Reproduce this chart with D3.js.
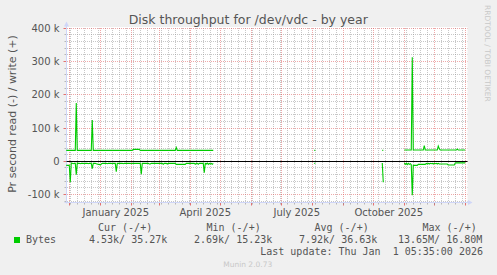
<!DOCTYPE html>
<html><head><meta charset="utf-8">
<script src="https://cdn.jsdelivr.net/npm/d3@7"></script>
<style>html,body{margin:0;padding:0;background:#F0F0F0;} svg{display:block}</style>
</head><body><svg id="c" width="497" height="275"></svg>
<script>
// ---------- data ----------
const chartTitle = "Disk throughput for /dev/vdc - by year";
const yAxisLabel = "Pr second read (-) / write (+)";
const yTickValues = [-100, 0, 100, 200, 300, 400]; // in k
const yTickLabels = ["-100 k", "0", "100 k", "200 k", "300 k", "400 k"];
const xLabelMonths = ["2025-01-01", "2025-04-01", "2025-07-01", "2025-10-01"];
const xLabelTexts = ["January 2025", "April 2025", "July 2025", "October 2025"];
const endTime = "2026-01-01T05:35:00Z";
const spanDays = 400;

// daily values (k bytes/s), each segment starts at its date
const segmentStarts = ["2024-11-28", "2025-08-03", "2025-10-10", "2025-11-01"];
const writeSeg1 = [
  33,33,33,33,33,33,33,33,33,33,
  175,33,33,33,33,33,33,33,33,33,
  33,33,33,33,33,33,124,33,33,33,
  33,33,33,33,33,33,33,33,33,33,
  33,33,33,33,33,33,33,33,33,33,
  33,33,33,33,33,33,33,33,33,33,
  33,33,33,33,33,33,33,36,36,36,
  36,36,36,36,33,33,33,33,33,33,
  33,33,33,33,33,33,33,33,33,33,
  33,33,33,33,33,33,33,33,33,33,
  33,33,33,33,33,33,33,33,33,33,
  42,33,33,33,33,33,33,33,33,33,
  33,33,33,33,33,33,33,33,33,33,
  33,33,33,33,33,33,33,33,33,33,
  33,33,33,33,33,33,33,33
];
const readSeg1 = [
  -12,-12,-12,-12,-63,-5,-6,-7,-6,-6,
  -40,-5,-6,-6,-7,-6,-6,-6,-7,-6,
  -6,-6,-7,-6,-6,-6,-22,-6,-6,-6,
  -7,-8,-9,-9,-11,-8,-6,-6,-6,-6,
  -6,-7,-6,-6,-6,-6,-7,-6,-6,-6,
  -31,-6,-6,-6,-6,-6,-6,-7,-6,-6,
  -6,-6,-6,-6,-6,-7,-6,-6,-6,-6,
  -6,-6,-6,-6,-6,-39,-6,-6,-6,-6,
  -6,-6,-6,-8,-8,-6,-6,-6,-6,-6,
  -6,-6,-6,-6,-6,-6,-6,-9,-6,-6,
  -6,-8,-6,-6,-6,-6,-6,-6,-6,-6,
  -9,-9,-9,-9,-9,-9,-9,-9,-9,-9,
  -6,-6,-6,-6,-6,-6,-6,-6,-6,-9,
  -6,-6,-9,-6,-6,-6,-6,-6,-34,-6,
  -8,-5,-9,-6,-8,-6,-9,-6
];
const writeSeg2 = [33, 33];
const readSeg2 = [-6, -6];
const writeSeg3 = [33, 33];
const readSeg3 = [-5, -63];
const writeSeg4 = [
  34,34,34,34,34,34,34,34,313,34,
  34,34,34,34,34,34,34,34,34,34,
  47,34,34,34,34,34,34,34,34,34,
  34,34,34,34,46,38,34,34,34,34,
  34,34,34,34,34,34,34,34,34,34,
  34,34,34,37,34,34,34,34,34,34,
  34,34
];
const readSeg4 = [
  -5,-9,-6,-10,-6,-9,-7,-10,-102,-12,
  -12,-12,-12,-12,-9,-9,-9,-9,-9,-9,
  -9,-9,-6,-8,-6,-8,-6,-7,-6,-8,
  -6,-7,-6,-8,-6,-8,-8,-8,-8,-8,
  -8,-8,-8,-8,-11,-11,-11,-11,-11,-11,
  -11,-5,-4.5,-4.5,-4.5,-4.5,-4.5,-4.5,-4.5,-4.5,
  -4.5,-4.5
];

const legendHeaders = ["Cur (-/+)", "Min (-/+)", "Avg (-/+)", "Max (-/+)"];
const legendSeriesName = "Bytes";
const legendValues = ["4.53k/ 35.27k", "2.69k/ 15.23k", "7.92k/ 36.63k", "13.65M/ 16.80M"];
const lastUpdate = "Last update: Thu Jan  1 05:35:00 2026";
const footer = "Munin 2.0.73";
const watermark = "RRDTOOL / TOBI OETIKER";

// ---------- drawing ----------
(function () {
const GREEN = "#00CC00", FONT = "#555555", AXIS = "#CFD6F8";
const GRID = "rgba(143,143,143,0.5)", MGRID = "rgba(222,81,81,0.5)";
const svg = d3.select("#c");
svg.append("rect").attr("width", 497).attr("height", 275).attr("fill", "#F0F0F0");

const PL = 66.5, PR = 467.5, PT = 28, PB = 202.5;
const end = new Date(endTime);
const start = d3.utcDay.offset(end, -spanDays);
const x = d3.scaleUtc().domain([start, end]).range([65.5, 465.5]);
const y = d3.scaleLinear().domain([-100, 400]).range([194.6, 28.3]);
const px = v => Math.round(v - 0.5) + 0.5;

svg.append("rect").attr("x", PL).attr("y", PT - 1).attr("width", PR - PL).attr("height", PB - PT + 1).attr("fill", "#FFFFFF");

const g = svg.append("g");
const minorY = d3.range(-120, 401, 20).filter(v => v % 100 !== 0);
const weeks = d3.utcMonday.range(start, end);
const months = d3.utcMonth.range(start, end);
function hLines(data, color) {
  g.append("g").selectAll("line").data(data).join("line")
    .attr("x1", PL + 0.5).attr("x2", PR)
    .attr("y1", d => px(y(d))).attr("y2", d => px(y(d)))
    .attr("stroke", color).attr("stroke-dasharray", "1,1");
}
function vLines(data, color) {
  g.append("g").selectAll("line").data(data).join("line")
    .attr("y1", PT).attr("y2", PB - 0.5)
    .attr("x1", d => px(x(d))).attr("x2", d => px(x(d)))
    .attr("stroke", color).attr("stroke-dasharray", "1,1");
}
hLines(minorY, GRID);
vLines(weeks.filter(w => !months.some(m => +m === +w)), GRID);
hLines(yTickValues, MGRID);
vLines(months, MGRID);
// ticks
g.append("g").selectAll("line").data(months).join("line")
  .attr("y1", PB + 0.5).attr("y2", PB + 3)
  .attr("x1", d => px(x(d))).attr("x2", d => px(x(d)))
  .attr("stroke", "rgba(222,81,81,0.8)");
g.append("g").selectAll("line").data(weeks).join("line")
  .attr("y1", PB + 0.5).attr("y2", PB + 2)
  .attr("x1", d => px(x(d))).attr("x2", d => px(x(d)))
  .attr("stroke", "rgba(143,143,143,0.6)");
g.append("g").selectAll("line").data(yTickValues).join("line")
  .attr("x1", PL - 3).attr("x2", PL - 0.5)
  .attr("y1", d => px(y(d))).attr("y2", d => px(y(d)))
  .attr("stroke", "rgba(222,81,81,0.8)");
g.append("g").selectAll("line").data(minorY).join("line")
  .attr("x1", PL - 2).attr("x2", PL - 0.5)
  .attr("y1", d => px(y(d))).attr("y2", d => px(y(d)))
  .attr("stroke", "rgba(143,143,143,0.6)");

// axes
svg.append("line").attr("x1", PL).attr("x2", PL).attr("y1", PT - 2).attr("y2", PB + 1)
  .attr("stroke", AXIS);
svg.append("line").attr("x1", PL - 2).attr("x2", PR + 1).attr("y1", PB).attr("y2", PB)
  .attr("stroke", AXIS);
svg.append("path").attr("d", `M${PL - 2.5},${PT - 1.5}L${PL + 2.5},${PT - 1.5}L${PL},${PT - 6.5}Z`).attr("fill", AXIS);
svg.append("path").attr("d", `M${PR + 0.5},${PB - 2.5}L${PR + 0.5},${PB + 2.5}L${PR + 5},${PB}Z`).attr("fill", AXIS);

// zero rule
svg.append("line").attr("x1", PL).attr("x2", PR).attr("y1", px(y(0))).attr("y2", px(y(0)))
  .attr("stroke", "#000");

// data
const writeSegs = [writeSeg1, writeSeg2, writeSeg3, writeSeg4];
const readSegs = [readSeg1, readSeg2, readSeg3, readSeg4];
const line = d3.line().x(d => x(d.t)).y(d => y(d.v));
function toPts(startStr, arr) {
  const s = new Date(startStr + "T00:00:00Z");
  return arr.map((v, i) => ({ t: d3.utcDay.offset(s, i), v }));
}
segmentStarts.forEach((s, k) => {
  svg.append("path").attr("d", line(toPts(s, writeSegs[k]))).attr("fill", "none").attr("stroke", GREEN).attr("stroke-width", 1.1);
  svg.append("path").attr("d", line(toPts(s, readSegs[k]))).attr("fill", "none").attr("stroke", GREEN).attr("stroke-width", 1.1);
});

// text
const sans = "'DejaVu Sans', sans-serif", mono = "'DejaVu Sans Mono', monospace";
svg.append("text").attr("x", 248.3).attr("y", 23.5).attr("text-anchor", "middle")
  .attr("font-family", sans).attr("font-size", 12.5).attr("fill", FONT).text(chartTitle);
svg.append("text").attr("transform", "translate(16,114) rotate(-90)").attr("text-anchor", "middle")
  .attr("font-family", sans).attr("font-size", 11).attr("fill", FONT).text(yAxisLabel);
svg.selectAll(".ylab").data(yTickValues).join("text")
  .attr("x", 59.5).attr("y", d => y(d) + 3.6).attr("text-anchor", "end")
  .attr("font-family", sans).attr("font-size", 10).attr("fill", FONT)
  .text((d, i) => yTickLabels[i]);
svg.selectAll(".xlab").data(xLabelMonths).join("text")
  .attr("x", d => { const m = new Date(d + "T00:00:00Z"); return (x(m) + x(d3.utcMonth.offset(m, 1))) / 2; })
  .attr("y", 216.3).attr("text-anchor", "middle")
  .attr("font-family", sans).attr("font-size", 10).attr("fill", FONT)
  .text((d, i) => xLabelTexts[i]);
svg.append("text").attr("transform", "translate(484.5,5) rotate(90)")
  .attr("font-family", sans).attr("font-size", 7.5).attr("fill", "#C8C8C8").text(watermark);

// legend
const headX = [98, 206.5, 314.5, 422.5];
svg.selectAll(".lh").data(legendHeaders).join("text")
  .attr("x", (d, i) => headX[i]).attr("y", 230.5)
  .attr("font-family", mono).attr("font-size", 10).attr("fill", FONT).text(d => d);
svg.append("rect").attr("x", 14).attr("y", 237).attr("width", 6).attr("height", 6).attr("fill", GREEN);
svg.append("text").attr("x", 26).attr("y", 242.5).attr("font-family", mono).attr("font-size", 10).attr("fill", FONT).text(legendSeriesName);
const valX = [89, 194, 299, 398];
svg.selectAll(".lv").data(legendValues).join("text")
  .attr("x", (d, i) => valX[i]).attr("y", 242.5)
  .attr("font-family", mono).attr("font-size", 10).attr("fill", FONT).text(d => d);
svg.append("text").attr("x", 483).attr("y", 254.5).attr("text-anchor", "end")
  .attr("font-family", mono).attr("font-size", 10).attr("fill", FONT).style("white-space", "pre").text(lastUpdate);
svg.append("text").attr("x", 247.7).attr("y", 266.8).attr("text-anchor", "middle")
  .attr("font-family", sans).attr("font-size", 7.5).attr("fill", "#C8C8C8").text(footer);
})();
</script></body></html>
